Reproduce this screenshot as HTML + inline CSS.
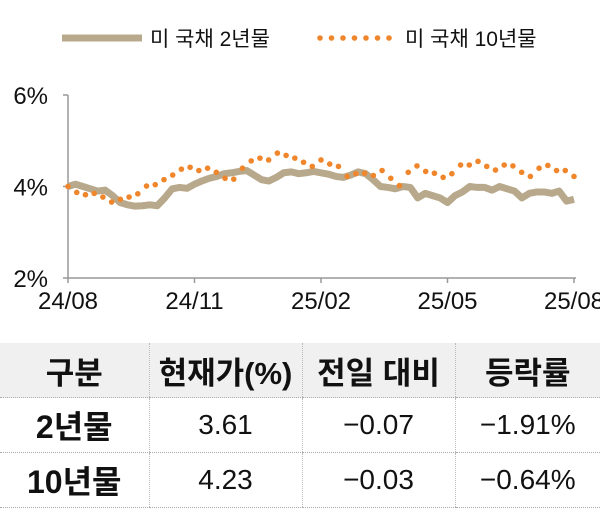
<!DOCTYPE html>
<html><head><meta charset="utf-8"><style>
body{margin:0;width:600px;height:504px;background:#fff;overflow:hidden;font-family:"Liberation Sans","Noto Sans CJK KR",sans-serif;}
svg{position:absolute;left:0;top:0}
table{position:absolute;left:0;top:343px;width:600px;border-collapse:collapse;table-layout:fixed}
td,th{text-align:center;color:#111;padding:0;border-bottom:1px dotted #aaa;border-left:1px dotted #bbb}
td:first-child,th:first-child{border-left:none}
th{background:#f0f0f0;height:54px;font-size:31px;font-weight:bold}
td{height:54px;font-size:28px}
td.lab{font-weight:bold;font-size:32px}
</style></head><body>
<svg width="600" height="330" id="chart"></svg>
<table>
<colgroup><col style="width:149px"><col style="width:153px"><col style="width:153px"><col style="width:145px"></colgroup>
<tr><th>구분</th><th>현재가(%)</th><th>전일 대비</th><th>등락률</th></tr>
<tr><td class="lab">2년물</td><td>3.61</td><td>−0.07</td><td>−1.91%</td></tr>
<tr><td class="lab">10년물</td><td>4.23</td><td>−0.03</td><td>−0.64%</td></tr>
</table>
<script>
const yTicks=[2,4,6];
const xLabels=["24/08","24/11","25/02","25/05","25/08"];
const y2=[4.0,4.05,4.0,3.95,3.9,3.92,3.8,3.65,3.6,3.57,3.58,3.6,3.58,3.75,3.95,3.98,3.96,4.05,4.12,4.18,4.22,4.28,4.3,4.33,4.35,4.25,4.15,4.12,4.2,4.3,4.32,4.28,4.3,4.33,4.3,4.27,4.22,4.2,4.25,4.32,4.28,4.15,4.0,3.98,3.95,4.0,3.98,3.75,3.85,3.8,3.75,3.65,3.8,3.88,4.0,3.98,3.98,3.92,4.0,3.95,3.9,3.75,3.85,3.88,3.88,3.85,3.9,3.68,3.72];
const y10=[4.0,3.87,3.82,3.85,3.77,3.66,3.72,3.77,3.84,4.01,4.04,4.15,4.25,4.38,4.42,4.35,4.40,4.31,4.18,4.16,4.40,4.56,4.62,4.58,4.73,4.68,4.62,4.53,4.44,4.58,4.49,4.44,4.22,4.28,4.29,4.24,4.35,4.18,4.02,4.31,4.45,4.33,4.29,4.20,4.28,4.47,4.47,4.55,4.44,4.36,4.47,4.45,4.31,4.22,4.40,4.46,4.35,4.35,4.22];
const NS="http://www.w3.org/2000/svg";
const svg=document.getElementById('chart');
const X0=68,X1=574,Y0=278,Y1=95;
const yS=v=>Y0-(v-2)/(6-2)*(Y0-Y1);
const xS=(i,n)=>X0+i/(n-1)*(X1-X0);
function mk(t,a){const e=document.createElementNS(NS,t);for(const k in a)e.setAttribute(k,a[k]);svg.appendChild(e);return e;}
let e;
e=mk('line',{x1:X0,y1:Y1,x2:X0,y2:Y0,stroke:'#999','stroke-width':1.5});


e=mk('line',{x1:X0,y1:Y0,x2:X1+2,y2:Y0,stroke:'#999','stroke-width':1.5});


yTicks.forEach(v=>{
 mk('line',{x1:X0-5,y1:yS(v),x2:X0,y2:yS(v),stroke:'#999','stroke-width':1.5});
 e=mk('text',{x:X0-20,y:yS(v)+9,'text-anchor':'end','font-size':24,fill:'#111'});e.textContent=v+'%';
 
 
});
xLabels.forEach((l,i)=>{
 const x=X0+i/(xLabels.length-1)*(X1-X0);
 mk('line',{x1:x,y1:Y0,x2:x,y2:Y0+5,stroke:'#999','stroke-width':1.5});
 e=mk('text',{x:x,y:Y0+31,'text-anchor':'middle','font-size':24,fill:'#111'});e.textContent=l;
 
 
});
e=mk('polyline',{points:y2.map((v,i)=>xS(i,y2.length)+','+yS(v)).join(' '),fill:'none',stroke:'#B8A98C','stroke-width':7,'stroke-linejoin':'round'});


y10.forEach((v,i)=>{
 e=mk('circle',{cx:xS(i,y10.length),cy:yS(v),r:2.8,fill:'#F0862C'});
 
 
});
e=mk('line',{x1:62,y1:38,x2:142,y2:38,stroke:'#B8A98C','stroke-width':7});


e=mk('text',{x:150,y:46,'font-size':21,fill:'#111'});e.textContent='미 국채 2년물';


for(let i=0;i<7;i++){e=mk('circle',{cx:320+i*11.5,cy:38,r:2.8,fill:'#F0862C'});
 
 }
e=mk('text',{x:405,y:46,'font-size':21,fill:'#111'});e.textContent='미 국채 10년물';


</script>
</body></html>
